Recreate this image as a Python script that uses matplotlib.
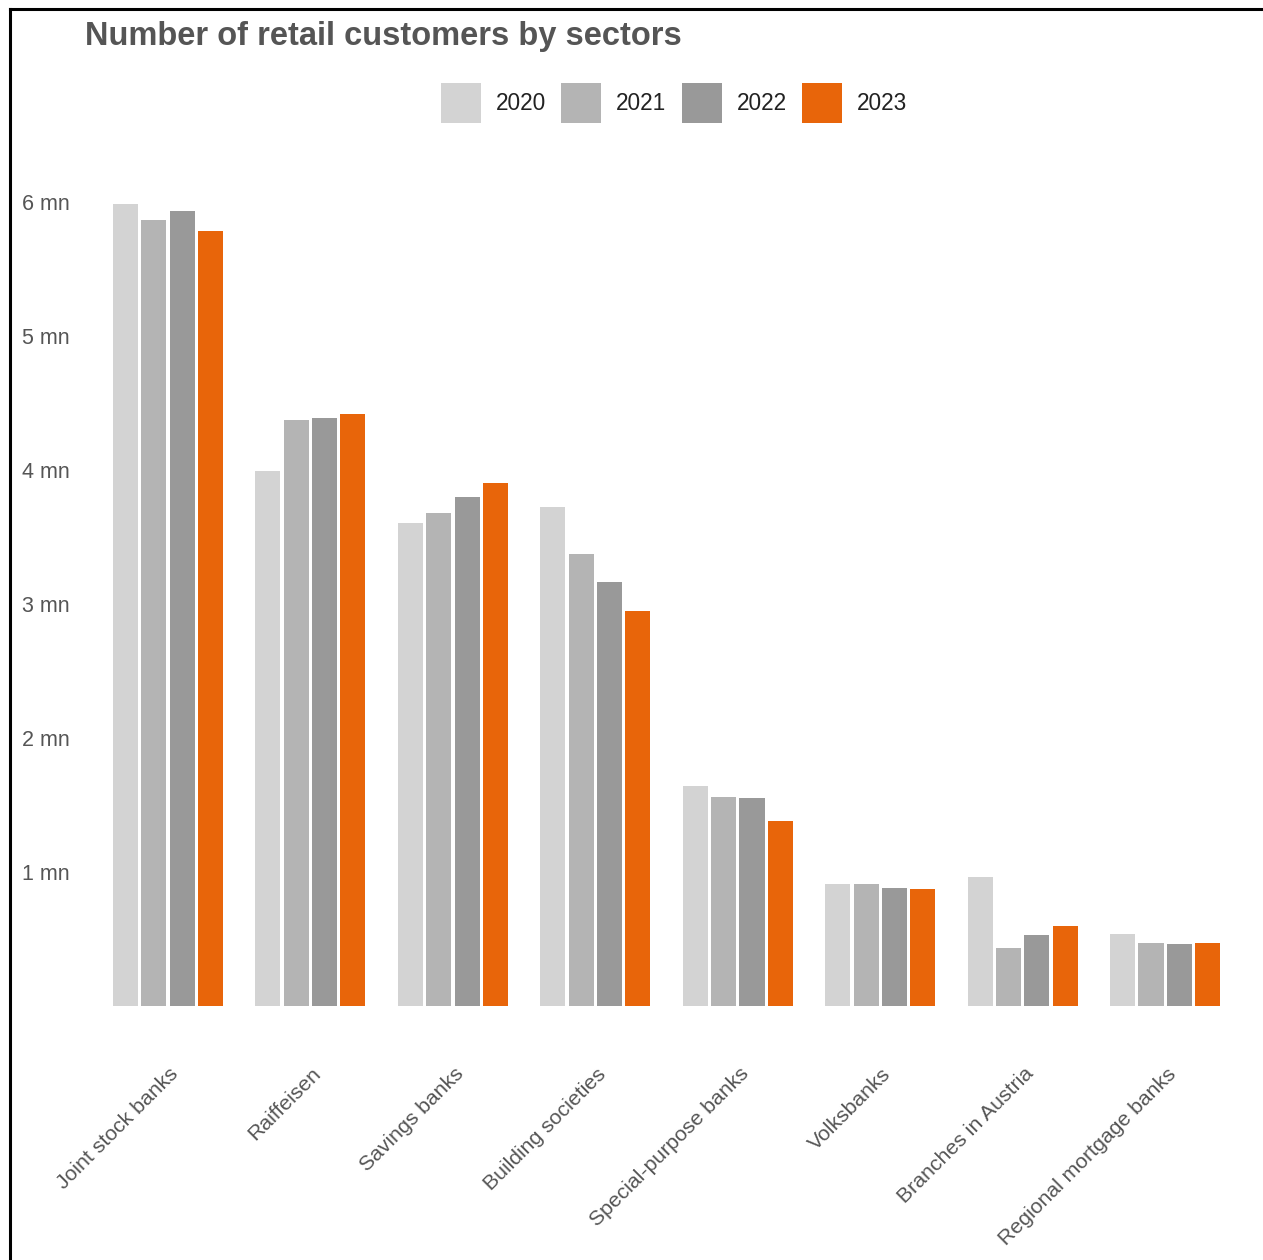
import matplotlib
matplotlib.use("Agg")
import matplotlib.pyplot as plt
import matplotlib.transforms as mtransforms
from matplotlib.lines import Line2D
from matplotlib.patches import Patch
import numpy as np

categories = ["Joint stock banks", "Raiffeisen", "Savings banks", "Building societies",
              "Special-purpose banks", "Volksbanks", "Branches in Austria",
              "Regional mortgage banks"]
years = ["2020", "2021", "2022", "2023"]
v2020 = [5.98, 3.99, 3.60, 3.72, 1.64, 0.91, 0.96, 0.54]
v2021 = [5.86, 4.37, 3.68, 3.37, 1.56, 0.91, 0.43, 0.47]
v2022 = [5.93, 4.39, 3.80, 3.16, 1.55, 0.88, 0.53, 0.46]
v2023 = [5.78, 4.42, 3.90, 2.95, 1.38, 0.87, 0.60, 0.47]
colors = ["#d3d3d3", "#b4b4b4", "#999999", "#e8650a"]
ytick_vals = [1, 2, 3, 4, 5, 6]
ytick_labels = ["1 mn", "2 mn", "3 mn", "4 mn", "5 mn", "6 mn"]

plt.rcParams['font.family'] = ['Liberation Sans', 'DejaVu Sans']

W, H = 1263, 1260
fig = plt.figure(figsize=(W / 100, H / 100), dpi=100)
ax = fig.add_axes([100 / W, 1 - 1006 / H, (1235 - 100) / W, (1006 - 195) / H])

x = np.arange(len(categories))
pitch = 0.199
width = 0.176
series = [v2020, v2021, v2022, v2023]
for i, (vals, c) in enumerate(zip(series, colors)):
    ax.bar(x + (i - 1.5) * pitch, vals, width=width, color=c, label=years[i], zorder=2)

ax.set_xlim(-0.477, 7.49)
ax.set_ylim(0, 6.05)
for s in ax.spines.values():
    s.set_visible(False)

ax.set_yticks(ytick_vals)
ax.set_yticklabels(ytick_labels, fontsize=15.5, color="#555555")
ax.tick_params(axis='y', length=0, pad=56)
for lab in ax.get_yticklabels():
    lab.set_horizontalalignment('left')

ax.set_xticks(x)
ax.set_xticklabels(categories, fontsize=15.3, color="#555555", rotation=45,
                   ha='right', rotation_mode='anchor')
ax.tick_params(axis='x', length=0, pad=42)
offset = mtransforms.ScaledTranslation(1 / 100, 0, fig.dpi_scale_trans)
for lab in ax.get_xticklabels():
    lab.set_transform(lab.get_transform() + offset)

fig.text(85 / W, 1 - 37 / H, "Number of retail customers by sectors", fontsize=23.5,
         fontweight='bold', color="#555555", ha='left', va='center')

handles = [Patch(facecolor=c, edgecolor='none') for c in colors]
fig.legend(handles, years, loc='center', bbox_to_anchor=(674 / W, 1 - 103 / H),
           ncol=4, frameon=False, fontsize=16.3, handlelength=1.77, handleheight=2.35,
           handletextpad=0.66, columnspacing=0.66, labelcolor="#222222")

fig.add_artist(Line2D([10 / W, 1.0], [1 - 9 / H, 1 - 9 / H], color='black', lw=2.2,
                      transform=fig.transFigure))
fig.add_artist(Line2D([10 / W, 10 / W], [0, 1 - 9 / H], color='black', lw=2.2,
                      transform=fig.transFigure))

fig.savefig("out.png", dpi=100)
